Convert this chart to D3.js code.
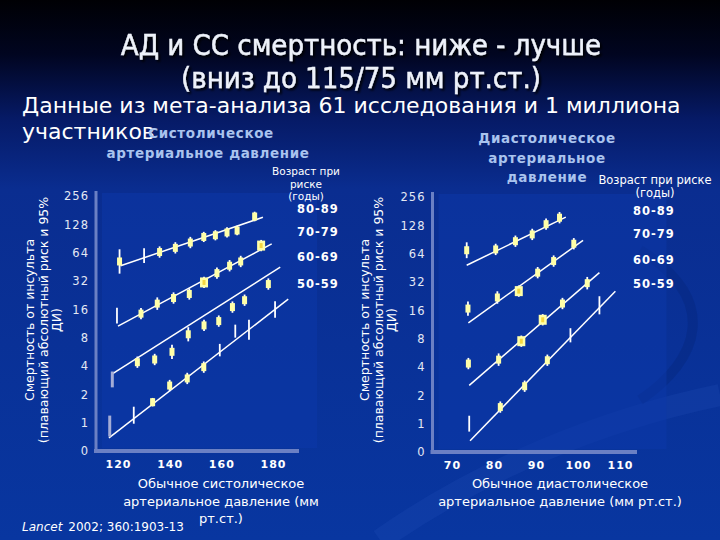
<!DOCTYPE html>
<html>
<head>
<meta charset="utf-8">
<script src="https://cdn.jsdelivr.net/npm/d3@7"></script>
<style>
  body { margin: 0; background: #0a3399; }
  svg { display: block; font-family: "DejaVu Sans", sans-serif; }
</style>
</head>
<body>
<div class="chart"></div>
<script>
/* age groups, from top line to bottom line */
const ageGroups = ["80-89", "70-79", "60-69", "50-59"];

/* y tick values (0.5 is labelled "0" on the slide) */
const yTickValues = [0.5, 1, 2, 4, 8, 16, 32, 64, 128, 256];
const sbpTicks = [120, 140, 160, 180];
const dbpTicks = [70, 80, 90, 100, 110];

/* systolic panel: usual SBP per point, one row per age group */
const sbpX = [
  [120.6, 130.1, 136.1, 142.2, 148.0, 153.2, 157.7, 162.2, 166.1, 172.9],
  [119.6, 128.9, 135.2, 141.5, 147.6, 153.3, 158.3, 163.2, 167.5, 175.4],
  [117.8, 127.5, 134.2, 140.9, 147.2, 153.3, 159.0, 164.3, 169.0, 178.2],
  [116.8, 126.1, 133.4, 140.0, 146.8, 153.2, 159.4, 165.4, 170.7, 180.8]
];
/* floating absolute risk */
const sbpRisk = [
  [51.6, 59.7, 65.0, 72.0, 82.0, 94.0, 98.0, 105, 110, 155],
  [13.7, 14.4, 18.4, 21.1, 23.3, 30.9, 38.8, 46.5, 51.6, 76.1],
  [2.88, 4.39, 4.69, 5.66, 8.69, 10.8, 12.0, 16.9, 20.0, 29.7],
  [0.92, 1.20, 1.65, 2.48, 2.95, 3.89, 5.90, 9.38, 9.71, 15.9]
];
/* half width of 95% CI in doublings */
const sbpCi = [
  [0.43, 0.26, 0.20, 0.20, 0.20, 0.18, 0.18, 0.18, 0.17, 0.17],
  [0.28, 0.20, 0.22, 0.20, 0.20, 0.20, 0.20, 0.20, 0.20, 0.20],
  [0.28, 0.20, 0.20, 0.25, 0.25, 0.20, 0.20, 0.20, 0.20, 0.20],
  [0.37, 0.30, 0.15, 0.20, 0.20, 0.20, 0.22, 0.23, 0.35, 0.29]
];
/* marker type: 0 none, 1 small, 2 large, 3 grey bar */
const sbpMark = [
  [1, 0, 1, 1, 1, 1, 1, 1, 1, 1],
  [0, 1, 1, 1, 1, 2, 1, 1, 1, 2],
  [3, 1, 1, 1, 1, 1, 1, 1, 1, 1],
  [3, 0, 1, 1, 1, 1, 0, 0, 0, 0]
];
/* fitted lines: start / end SBP and risk */
const sbpFitX = [[121, 176.1], [120, 179.5], [117.8, 182.8], [116.5, 185.9]];
const sbpFitRisk = [[46.5, 152], [10.6, 79.3], [3.29, 44.9], [0.69, 20.5]];

/* diastolic panel */
const dbpX = [
  [73.5, 80.4, 85.1, 89.1, 92.4, 95.6],
  [73.8, 80.8, 85.9, 90.4, 94.2, 99.0],
  [73.9, 81.1, 86.5, 91.6, 96.3, 102.2],
  [74.1, 81.5, 87.3, 92.7, 98.2, 105.1]
];
const dbpRisk = [
  [69.6, 71.0, 86.8, 102.5, 131.6, 154.3],
  [16.7, 21.9, 25.6, 40.2, 53.4, 81.6],
  [4.35, 4.79, 7.52, 12.7, 18.9, 31.1],
  [1.00, 1.50, 2.50, 4.72, 8.69, 18.1]
];
const dbpCi = [
  [0.28, 0.20, 0.20, 0.20, 0.20, 0.20],
  [0.25, 0.22, 0.20, 0.20, 0.20, 0.20],
  [0.20, 0.22, 0.20, 0.20, 0.20, 0.22],
  [0.28, 0.20, 0.20, 0.20, 0.25, 0.32]
];
const dbpMark = [
  [1, 1, 1, 1, 1, 1],
  [1, 1, 2, 1, 1, 1],
  [1, 1, 2, 2, 1, 1],
  [0, 1, 1, 1, 0, 0]
];
const dbpFitX = [[73.5, 97.1], [73.9, 101.2], [74.1, 105.1], [74.3, 108.9]];
const dbpFitRisk = [[48.2, 156.5], [11.8, 88.6], [2.55, 40.2], [0.66, 25.5]];

const width = 720;
const height = 540;

/* create svg */
const svg = d3.select(".chart")
  .append("svg")
  .attr("width", width)
  .attr("height", height);

/* background gradient, black at top to blue */
const defs = svg.append("defs");
const grad = defs.append("linearGradient")
  .attr("id", "bg")
  .attr("x1", 0).attr("y1", 0).attr("x2", 0).attr("y2", 1);
grad.append("stop").attr("offset", "0%").attr("stop-color", "#000004");
grad.append("stop").attr("offset", "10%").attr("stop-color", "#010520");
grad.append("stop").attr("offset", "22%").attr("stop-color", "#061a66");
grad.append("stop").attr("offset", "35%").attr("stop-color", "#0a2d90");
grad.append("stop").attr("offset", "100%").attr("stop-color", "#0836a0");

const shadow = defs.append("filter").attr("id", "shadow");
shadow.append("feDropShadow")
  .attr("dx", 2).attr("dy", 2).attr("stdDeviation", 1.2)
  .attr("flood-color", "#000000").attr("flood-opacity", 0.9);

svg.append("rect")
  .attr("width", width)
  .attr("height", height)
  .attr("fill", "url(#bg)");

/* faint swooshes in the background */
svg.append("path")
  .attr("d", "M380,540 C480,470 600,420 720,395")
  .attr("fill", "none")
  .attr("stroke", "#2a55c0")
  .attr("stroke-width", 22)
  .attr("opacity", 0.2);
svg.append("path")
  .attr("d", "M640,250 C720,300 700,360 640,400")
  .attr("fill", "none")
  .attr("stroke", "#06267a")
  .attr("stroke-width", 10)
  .attr("opacity", 0.4);

/* title */
const title = svg.append("g")
  .attr("filter", "url(#shadow)")
  .style("font-family", "'DejaVu Sans Condensed', 'Liberation Sans Narrow', sans-serif")
  .style("font-size", "29px")
  .attr("fill", "#eef2fa")
  .attr("stroke", "#eef2fa")
  .attr("stroke-width", 0.4)
  .attr("text-anchor", "middle");
title.append("text").attr("x", 361).attr("y", 55).text("АД и СС смертность: ниже - лучше");
title.append("text").attr("x", 361).attr("y", 88).text("(вниз до 115/75 мм рт.ст.)");

/* subtitle */
svg.append("text")
  .attr("x", 22).attr("y", 113)
  .attr("fill", "#ffffff")
  .style("font-size", "22px")
  .text("Данные из мета-анализа 61 исследования и 1 миллиона");
svg.append("text")
  .attr("x", 22).attr("y", 139)
  .attr("fill", "#ffffff")
  .style("font-size", "22px")
  .text("участников");

/* function to draw one panel */
function drawPanel(p) {
  const xScale = d3.scaleLinear().domain(p.xDomain).range(p.xRange);
  const yScale = d3.scaleLog().base(2).domain([0.5, 256]).range([p.yBottom, p.yTop]);

  const g = svg.append("g");

  /* plot panel */
  g.append("rect")
    .attr("x", p.axisX + 6)
    .attr("y", p.yTop - 3)
    .attr("width", p.xRange[1] - p.xRange[0] + 60)
    .attr("height", p.yBottom - p.yTop)
    .attr("fill", "#0b38aa")
    .attr("opacity", 0.5);

  /* y axis */
  const yAxis = d3.axisLeft(yScale)
    .tickValues(yTickValues)
    .tickSize(0)
    .tickPadding(7)
    .tickFormat(d => d < 1 ? "0" : d);
  g.append("g")
    .attr("transform", `translate(${p.axisX},0)`)
    .call(yAxis)
    .call(a => a.select(".domain").remove())
    .selectAll("text")
    .attr("fill", "#e4e8f4")
    .style("font-size", "11.5px")
    .style("letter-spacing", "1px")
    .style("font-family", "'DejaVu Sans', sans-serif");

  /* x axis */
  const xAxis = d3.axisBottom(xScale)
    .tickValues(p.ticks)
    .tickSize(0)
    .tickPadding(9);
  g.append("g")
    .attr("transform", `translate(0,${p.yBottom})`)
    .call(xAxis)
    .call(a => a.select(".domain").remove())
    .selectAll("text")
    .attr("fill", "#ffffff")
    .style("font-size", "11px")
    .style("font-weight", "bold")
    .style("letter-spacing", "1px")
    .style("font-family", "'DejaVu Sans', sans-serif");

  /* thick axis lines */
  g.append("line")
    .attr("x1", p.axisX).attr("x2", p.axisX)
    .attr("y1", p.yTop - 5).attr("y2", p.yBottom)
    .attr("stroke", "#6b80c4").attr("stroke-width", 3);
  g.append("line")
    .attr("x1", p.axisX - 2).attr("x2", p.axisEnd)
    .attr("y1", p.yBottom).attr("y2", p.yBottom)
    .attr("stroke", "#6b80c4").attr("stroke-width", 4);

  /* fitted lines */
  ageGroups.forEach((a, i) => {
    g.append("line")
      .attr("x1", xScale(p.fitX[i][0]))
      .attr("y1", yScale(p.fitRisk[i][0]))
      .attr("x2", xScale(p.fitX[i][1]))
      .attr("y2", yScale(p.fitRisk[i][1]))
      .attr("stroke", "#ffffff")
      .attr("stroke-width", 1.5);
  });

  /* error bars and markers */
  ageGroups.forEach((a, i) => {
    const pts = p.x[i].map((x, j) => ({
      x: x, r: p.risk[i][j], ci: p.ci[i][j], m: p.mark[i][j]
    }));
    const grp = g.append("g");
    grp.selectAll("line")
      .data(pts)
      .enter()
      .append("line")
      .attr("x1", d => xScale(d.x))
      .attr("x2", d => xScale(d.x))
      .attr("y1", d => yScale(d.r * Math.pow(2, -d.ci)))
      .attr("y2", d => yScale(d.r * Math.pow(2, d.ci)))
      .attr("stroke", d => d.m === 3 ? "#a4acd6" : "#ffffff")
      .attr("stroke-width", d => d.m === 3 ? 3 : 1.8);
    grp.selectAll("rect")
      .data(pts.filter(d => d.m === 1 || d.m === 2))
      .enter()
      .append("rect")
      .attr("x", d => xScale(d.x) - (d.m === 2 ? 4 : 2.5))
      .attr("y", d => yScale(d.r) - (d.m === 2 ? 5 : 4))
      .attr("width", d => d.m === 2 ? 8 : 5)
      .attr("height", d => d.m === 2 ? 10 : 8)
      .attr("fill", "#ffffa8");
    grp.selectAll(".core")
      .data(pts.filter(d => d.m === 2))
      .enter()
      .append("rect")
      .attr("class", "core")
      .attr("x", d => xScale(d.x) - 1.5)
      .attr("y", d => yScale(d.r) - 2.5)
      .attr("width", 3)
      .attr("height", 5)
      .attr("fill", "#f5d640");
  });

  /* panel heading */
  g.append("g")
    .attr("fill", "#a9c3ee")
    .style("font-weight", "bold")
    .style("font-size", "13.5px")
    .style("letter-spacing", "0.6px")
    .attr("text-anchor", p.headAnchor)
    .selectAll("text")
    .data(p.heading)
    .enter()
    .append("text")
    .attr("x", d => d[1])
    .attr("y", d => d[2])
    .text(d => d[0]);

  /* age legend */
  g.append("g")
    .attr("fill", "#ffffff")
    .style("font-size", p.legendSize)
    .attr("text-anchor", "middle")
    .selectAll("text")
    .data(p.legendHead)
    .enter()
    .append("text")
    .attr("x", d => d[1])
    .attr("y", d => d[2])
    .text(d => d[0]);
  g.append("g")
    .attr("fill", "#ffffff")
    .style("font-size", "11.5px")
    .style("font-weight", "bold")
    .style("letter-spacing", "1px")
    .selectAll("text")
    .data(ageGroups)
    .enter()
    .append("text")
    .attr("x", p.legendX)
    .attr("y", (d, i) => p.legendY[i])
    .text(d => d);

  /* y axis title */
  g.append("g")
    .attr("transform", `translate(${p.yTitleX},${p.yTitleY}) rotate(-90)`)
    .attr("fill", "#ffffff")
    .style("font-size", "12.5px")
    .attr("text-anchor", "middle")
    .selectAll("text")
    .data(["Смертность от инсульта", "(плавающий абсолютный риск и 95%", "ДИ)"])
    .enter()
    .append("text")
    .attr("x", 0)
    .attr("y", (d, i) => i * 13.5)
    .text(d => d);

  /* x axis title */
  g.append("g")
    .attr("fill", "#ffffff")
    .style("font-size", "13px")
    .attr("text-anchor", "middle")
    .selectAll("text")
    .data(p.xTitle)
    .enter()
    .append("text")
    .attr("x", p.xTitleX)
    .attr("y", (d, i) => 488 + i * 17.5)
    .text(d => d);
}

drawPanel({
  xDomain: [120, 180], xRange: [118, 273], ticks: sbpTicks,
  yTop: 196, yBottom: 451, axisX: 96, axisEnd: 299,
  x: sbpX, risk: sbpRisk, ci: sbpCi, mark: sbpMark,
  fitX: sbpFitX, fitRisk: sbpFitRisk,
  heading: [["Систолическое", 211, 138], ["артериальное давление", 208, 158]],
  headAnchor: "middle",
  legendHead: [["Возраст при", 306, 175], ["риске", 306, 188], ["(годы)", 306, 200]],
  legendSize: "10.5px",
  legendX: 297, legendY: [213, 236, 261, 288],
  yTitleX: 34, yTitleY: 320,
  xTitle: ["Обычное систолическое", "артериальное давление (мм", "рт.ст.)"],
  xTitleX: 221
});

drawPanel({
  xDomain: [70, 110], xRange: [452, 620], ticks: dbpTicks,
  yTop: 197, yBottom: 452, axisX: 432.5, axisEnd: 637,
  x: dbpX, risk: dbpRisk, ci: dbpCi, mark: dbpMark,
  fitX: dbpFitX, fitRisk: dbpFitRisk,
  heading: [["Диастолическое", 547, 143], ["артериальное", 547, 163], ["давление", 547, 182]],
  headAnchor: "middle",
  legendHead: [["Возраст при риске", 655, 184], ["(годы)", 655, 197]],
  legendSize: "11.5px",
  legendX: 633, legendY: [215, 238, 264, 288],
  yTitleX: 369, yTitleY: 320,
  xTitle: ["Обычное диастолическое", "артериальное давление (мм рт.ст.)"],
  xTitleX: 560
});

/* citation */
const cite = svg.append("text")
  .attr("x", 22).attr("y", 531)
  .attr("fill", "#ffffff")
  .style("font-size", "12px");
cite.append("tspan").style("font-style", "italic").text("Lancet");
cite.append("tspan").attr("dx", 6).text("2002; 360:1903-13");
</script>
</body>
</html>
